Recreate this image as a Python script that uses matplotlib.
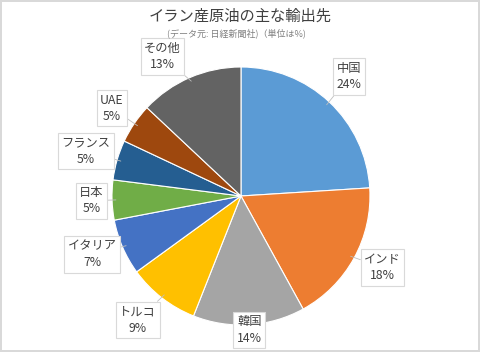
import numpy as np
import matplotlib
matplotlib.use("Agg")
import matplotlib.pyplot as plt

plt.rcParams['font.family'] = ['Noto Sans CJK JP', 'DejaVu Sans']

# ================================
#   DATOS
# ================================
paises = ["中国", "インド", "韓国", "トルコ", "イタリア", "日本", "フランス", "UAE", "その他"]
porcentajes = [24, 18, 14, 9, 7, 5, 5, 5, 13]
colores = ["#5B9BD5", "#ED7D31", "#A5A5A5", "#FFC000", "#4472C4",
           "#70AD47", "#255E91", "#9E480E", "#636363"]
# distancia de cada etiqueta respecto al radio
dist_etiqueta = [1.25, 1.23, 1.04, 1.25, 1.24, 1.16, 1.25, 1.21, 1.24]
desvio_angulo = [1, 2, 0, -2, -2, 0, 0, 0, 6]

fig = plt.figure(figsize=(4.8, 3.52), dpi=100)
fig.patch.set_facecolor("white")
fig.patch.set_edgecolor("#D9D9D9")
fig.patch.set_linewidth(1.5)

ax = fig.add_axes([0.2333, 0.0767, 0.5375, 0.733])
wedges, _ = ax.pie(porcentajes, colors=colores, startangle=90, counterclock=False,
                   radius=1.0, wedgeprops=dict(edgecolor="white", linewidth=0.8))
ax.set_xlim(-1, 1)
ax.set_ylim(-1, 1)
ax.set_aspect("equal")
ax.axis("off")

# Etiquetas tipo callout
for w, nombre, p, d, da in zip(wedges, paises, porcentajes, dist_etiqueta, desvio_angulo):
    ang = np.deg2rad((w.theta1 + w.theta2) / 2)
    ang_txt = ang + np.deg2rad(da)
    xe, ye = np.cos(ang), np.sin(ang)
    xt, yt = d * np.cos(ang_txt), d * np.sin(ang_txt)
    ax.annotate(f"{nombre}\n{p}%", xy=(0.97 * xe, 0.97 * ye), xytext=(xt, yt),
                ha="center", va="center", fontsize=8.8, color="#404040",
                linespacing=1.35, annotation_clip=False,
                bbox=dict(boxstyle="square,pad=0.28", fc="white", ec="#D9D9D9", lw=0.8),
                arrowprops=dict(arrowstyle="-", color="#BFBFBF", lw=0.6,
                                shrinkA=0, shrinkB=0))

fig.text(0.5, 0.955, "イラン産原油の主な輸出先", ha="center", va="center",
         fontsize=11, color="#404040")
fig.text(0.493, 0.905, "(データ元: 日経新聞社)（単位は%)", ha="center", va="center",
         fontsize=6.5, color="#7F7F7F")

fig.savefig("out.png", dpi=100)
